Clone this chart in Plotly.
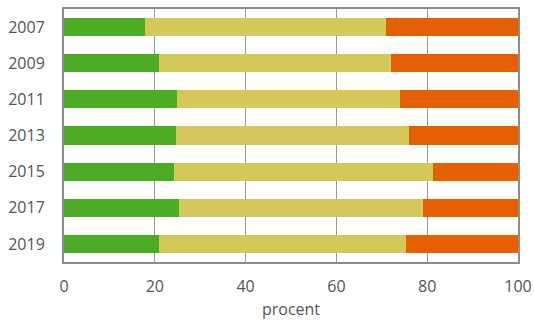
import plotly.graph_objects as go

years = ["2007", "2009", "2011", "2013", "2015", "2017", "2019"]
green = [17.8, 20.9, 24.9, 24.7, 24.2, 25.3, 20.9]
yellow = [53.1, 51.1, 49.1, 51.3, 57.1, 53.8, 54.4]
orange = [round(100 - g - y, 1) for g, y in zip(green, yellow)]

colors = ["#4cac26", "#d5c85a", "#e46000"]

fig = go.Figure()
for vals, c in zip([green, yellow, orange], colors):
    fig.add_trace(go.Bar(
        x=vals, y=years, orientation="h",
        marker=dict(color=c, line=dict(width=0)),
        hoverinfo="x+y",
    ))

fig.update_layout(
    barmode="stack",
    bargap=0.5,
    width=534, height=320,
    margin=dict(l=64, r=16, t=9, b=58),
    plot_bgcolor="white",
    paper_bgcolor="white",
    showlegend=False,
    font=dict(family="Open Sans, sans-serif", size=16, color="#555555"),
)
fig.update_xaxes(
    range=[0, 100], dtick=20,
    showgrid=True, gridcolor="#999999", gridwidth=1,
    showline=True, linecolor="#8c8c8c", linewidth=2, mirror=True,
    zeroline=False, ticks="", ticklabelstandoff=9, automargin=False,
    title=dict(text="procent", standoff=10, font=dict(size=16)),
)
fig.update_yaxes(
    autorange="reversed",
    showline=True, linecolor="#8c8c8c", linewidth=2, mirror=True,
    ticks="", ticklabelstandoff=14, automargin=False,
)

# the page body has a default 8px margin; drop it so the figure sits at 0,0
fig.write_html("out.html", config={"displayModeBar": False},
               post_script="document.body.style.margin='0';")
